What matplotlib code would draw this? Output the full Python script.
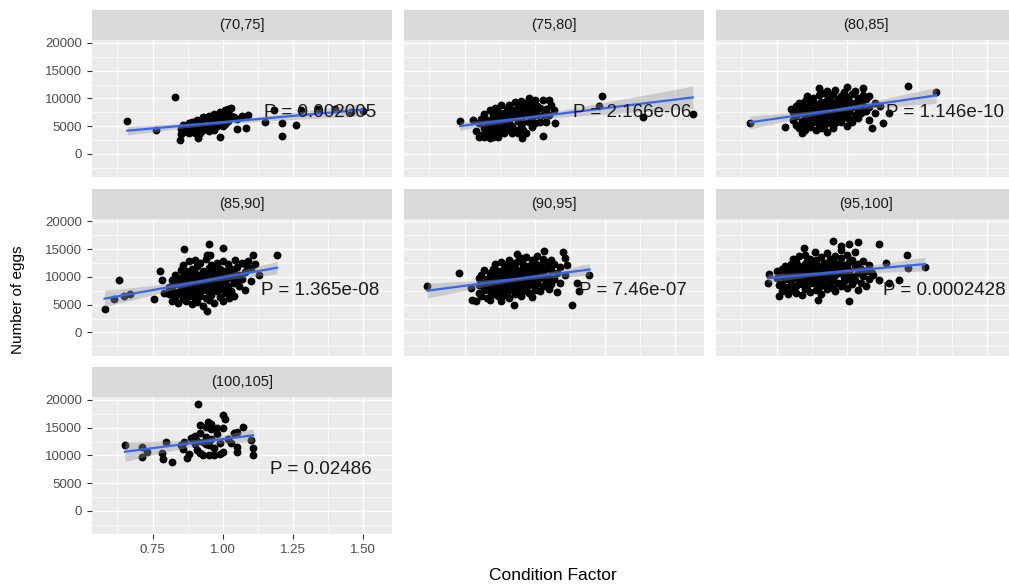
import numpy as np
import matplotlib
matplotlib.use('Agg')
import matplotlib.pyplot as plt

plt.rcParams['font.family'] = ['Liberation Sans', 'DejaVu Sans']

# facet labels (length class) and the p-values printed in each panel
panel_labels = ['(70,75]', '(75,80]', '(80,85]', '(85,90]',
                '(90,95]', '(95,100]', '(100,105]']
p_labels = ['P = 0.002005', 'P = 2.166e-06', 'P = 1.146e-10',
            'P = 1.365e-08', 'P = 7.46e-07', 'P = 0.0002428', 'P = 0.02486']

# (condition factor, number of eggs), one list per panel
pts_70_75 = [
    (0.66, 5900), (0.83, 10200), (0.763, 4300), (0.848, 2500), (0.912, 2900),
    (0.99, 3100), (1.02, 8100), (1.051, 4500), (1.083, 4700), (1.091, 7000),
    (1.152, 5800), (1.212, 5600), (1.212, 3300), (1.263, 5200), (1.182, 7900),
    (1.342, 8100), (1.46, 7600), (1.28, 8000), (1.40, 8100), (1.50, 7800),
    (0.85, 3600), (0.85, 4500), (0.86, 3900), (0.86, 5200), (0.87, 4200),
    (0.87, 5000), (0.88, 3700), (0.88, 5500), (0.88, 4600), (0.89, 4200),
    (0.89, 5800), (0.90, 4800), (0.90, 3800), (0.90, 5400), (0.91, 4300),
    (0.91, 6200), (0.91, 5100), (0.92, 4700), (0.92, 5800), (0.92, 3800),
    (0.93, 5200), (0.93, 6700), (0.93, 4300), (0.94, 5700), (0.94, 6400),
    (0.94, 4600), (0.95, 4100), (0.95, 5200), (0.95, 6900), (0.96, 5700),
    (0.96, 4500), (0.96, 6400), (0.97, 7200), (0.97, 5200), (0.97, 4300),
    (0.98, 6100), (0.98, 6900), (0.98, 5000), (0.99, 5600), (0.99, 7600),
    (0.99, 6500), (1.00, 5000), (1.00, 7200), (1.00, 6100), (1.01, 7900),
    (1.01, 6700), (1.01, 5400), (1.02, 7500), (1.02, 6000), (1.03, 6900),
    (1.03, 8200), (1.04, 6700), (1.05, 6300), (1.07, 6900),
]

pts_75_80 = [
    (0.734, 5900), (0.78, 6100), (0.80, 3100), (0.84, 2900), (0.954, 2900),
    (1.03, 3300), (1.05, 9700), (1.073, 5600), (1.23, 8700), (1.24, 10500),
    (1.389, 6700), (1.565, 7200),
    (0.79, 4100), (0.80, 5600), (0.81, 3500), (0.81, 6300), (0.82, 4700),
    (0.82, 3000), (0.82, 7200), (0.83, 5500), (0.83, 4000), (0.83, 6200),
    (0.84, 4600), (0.84, 7900), (0.84, 3400), (0.85, 6200), (0.85, 3000),
    (0.85, 7000), (0.85, 5100), (0.86, 4100), (0.86, 8300), (0.86, 5600),
    (0.87, 4900), (0.87, 6700), (0.87, 3000), (0.87, 7600), (0.88, 6100),
    (0.88, 3900), (0.88, 8800), (0.89, 4800), (0.89, 7400), (0.89, 5700),
    (0.89, 3700), (0.90, 8200), (0.90, 5300), (0.90, 6700), (0.91, 4400),
    (0.91, 7200), (0.91, 8800), (0.91, 6000), (0.92, 5100), (0.92, 8000),
    (0.92, 3700), (0.93, 6700), (0.93, 4400), (0.93, 9400), (0.93, 7600),
    (0.94, 5900), (0.94, 8700), (0.94, 3800), (0.95, 7300), (0.95, 5100),
    (0.95, 9500), (0.95, 6500), (0.96, 5700), (0.96, 8200), (0.96, 4300),
    (0.97, 7200), (0.97, 9100), (0.97, 3700), (0.98, 5700), (0.98, 7900),
    (0.98, 10000), (0.99, 6600), (0.99, 4900), (0.99, 8900), (1.00, 7600),
    (1.00, 5600), (1.00, 9700), (1.01, 7000), (1.01, 8600), (1.02, 5800),
    (1.02, 8300), (1.03, 9700), (1.03, 7100), (1.04, 8100), (1.04, 5700),
    (1.05, 7000), (1.06, 8800), (1.07, 7900),
]

pts_80_85 = [
    (0.655, 5600), (0.80, 8100), (0.78, 4900), (0.90, 11800), (0.84, 3700),
    (0.93, 4000), (1.00, 12100), (1.06, 11900), (1.22, 12300), (1.32, 11200),
    (1.09, 4600), (1.131, 5600), (1.15, 7400), (1.12, 8700), (1.08, 10400),
    (0.81, 6200), (0.81, 7600), (0.82, 5200), (0.82, 8600), (0.82, 6900),
    (0.83, 4600), (0.83, 7300), (0.83, 9100), (0.84, 6000), (0.84, 8200),
    (0.84, 5100), (0.85, 7000), (0.85, 9600), (0.85, 4300), (0.85, 6400),
    (0.86, 5600), (0.86, 8600), (0.86, 7700), (0.86, 10400), (0.87, 6600),
    (0.87, 4800), (0.87, 9100), (0.87, 7300), (0.88, 8000), (0.88, 5700),
    (0.88, 10100), (0.88, 6900), (0.89, 7500), (0.89, 4400), (0.89, 9000),
    (0.89, 6100), (0.90, 8500), (0.90, 6500), (0.90, 10600), (0.90, 5300),
    (0.91, 7100), (0.91, 9400), (0.91, 4600), (0.91, 8100), (0.92, 6000),
    (0.92, 10900), (0.92, 7700), (0.92, 5100), (0.92, 8800), (0.93, 9700),
    (0.93, 6800), (0.93, 7900), (0.93, 11300), (0.94, 5600), (0.94, 8400),
    (0.94, 10100), (0.94, 7200), (0.95, 9100), (0.95, 6300), (0.95, 4700),
    (0.95, 7800), (0.95, 10800), (0.96, 8600), (0.96, 6900), (0.96, 11500),
    (0.96, 5500), (0.97, 7400), (0.97, 9900), (0.97, 8200), (0.97, 6100),
    (0.98, 10500), (0.98, 5800), (0.98, 8900), (0.98, 7300), (0.99, 9300),
    (0.99, 6600), (0.99, 11100), (0.99, 8000), (1.00, 7000), (1.00, 10200),
    (1.00, 5000), (1.00, 8700), (1.01, 9600), (1.01, 7700), (1.01, 6300),
    (1.02, 10800), (1.02, 8400), (1.02, 5700), (1.03, 9100), (1.03, 7100),
    (1.03, 11400), (1.04, 8000), (1.04, 10100), (1.04, 6500), (1.05, 9400),
    (1.05, 7400), (1.06, 8700), (1.06, 10600), (1.07, 7800), (1.07, 9900),
    (1.08, 8400), (1.08, 6200), (1.10, 9200), (1.10, 7400),
]

pts_85_90 = [
    (0.579, 4300), (0.629, 9400), (0.611, 6100), (0.647, 6500), (0.671, 6900),
    (0.778, 11000), (0.754, 6100), (0.862, 15100), (0.951, 15900), (1.00, 15300),
    (0.957, 14000), (1.195, 14000), (1.11, 13900), (1.117, 12300), (0.945, 3800),
    (1.022, 6300), (0.79, 7200), (0.784, 9500), (1.09, 12800), (1.046, 13100),
    (1.082, 12200), (0.945, 14000),
    (0.81, 8200), (0.81, 6900), (0.82, 9400), (0.82, 7600), (0.82, 5600),
    (0.83, 8700), (0.83, 10300), (0.83, 6400), (0.84, 7300), (0.84, 9800),
    (0.84, 5300), (0.85, 8900), (0.85, 11200), (0.85, 6900), (0.85, 7800),
    (0.86, 10100), (0.86, 6100), (0.86, 8400), (0.86, 12100), (0.87, 9300),
    (0.87, 7200), (0.87, 11000), (0.87, 5700), (0.88, 8100), (0.88, 10500),
    (0.88, 6600), (0.88, 12800), (0.88, 9300), (0.89, 7500), (0.89, 9900),
    (0.89, 11500), (0.89, 5100), (0.90, 8700), (0.90, 10800), (0.90, 6300),
    (0.90, 7800), (0.90, 13100), (0.91, 9500), (0.91, 11900), (0.91, 7000),
    (0.91, 5500), (0.92, 8200), (0.92, 10300), (0.92, 12500), (0.92, 6600),
    (0.92, 9000), (0.93, 11100), (0.93, 7600), (0.93, 9700), (0.93, 4800),
    (0.94, 8500), (0.94, 10600), (0.94, 13200), (0.94, 6200), (0.94, 9300),
    (0.95, 7300), (0.95, 11600), (0.95, 9900), (0.95, 5800), (0.96, 8800),
    (0.96, 12200), (0.96, 10400), (0.96, 6800), (0.96, 7800), (0.97, 9500),
    (0.97, 11200), (0.97, 5300), (0.97, 8200), (0.98, 10700), (0.98, 7500),
    (0.98, 12600), (0.98, 9100), (0.99, 8600), (0.99, 11500), (0.99, 6400),
    (0.99, 9900), (1.00, 10200), (1.00, 7900), (1.00, 12900), (1.00, 5700),
    (1.01, 9300), (1.01, 11000), (1.01, 7100), (1.02, 10500), (1.02, 8400),
    (1.02, 12300), (1.03, 9800), (1.03, 7500), (1.03, 11400), (1.04, 8900),
    (1.04, 10700), (1.04, 6600), (1.05, 11800), (1.05, 9400), (1.06, 8300),
    (1.06, 10300), (1.07, 12500), (1.07, 9600), (1.08, 10900), (1.08, 7700),
    (1.10, 11600), (1.10, 9200), (1.13, 10400),
]

pts_90_95 = [
    (0.617, 8300), (0.731, 10700), (0.772, 8000), (0.778, 5900), (0.939, 14200),
    (1.034, 14600), (1.10, 14500), (1.117, 12200), (1.135, 5000), (1.153, 8900),
    (1.16, 7400), (1.196, 10400), (0.927, 5000), (0.79, 5600),
    (0.80, 8600), (0.80, 7200), (0.80, 9900), (0.81, 10400), (0.81, 6500),
    (0.82, 8900), (0.82, 7700), (0.82, 11200), (0.83, 9600), (0.83, 6200),
    (0.83, 8300), (0.84, 10800), (0.84, 7400), (0.84, 9200), (0.84, 5800),
    (0.85, 8100), (0.85, 11500), (0.85, 9700), (0.85, 6900), (0.86, 10200),
    (0.86, 8600), (0.86, 12300), (0.86, 7300), (0.87, 9300), (0.87, 11000),
    (0.87, 6500), (0.87, 8000), (0.88, 10600), (0.88, 7700), (0.88, 12700),
    (0.88, 9000), (0.88, 5600), (0.89, 8400), (0.89, 11700), (0.89, 9900),
    (0.89, 6800), (0.90, 10900), (0.90, 7300), (0.90, 12300), (0.90, 9200),
    (0.90, 8100), (0.91, 9700), (0.91, 13100), (0.91, 6300), (0.91, 11300),
    (0.92, 8700), (0.92, 10500), (0.92, 7600), (0.92, 12500), (0.92, 9400),
    (0.93, 11800), (0.93, 8200), (0.93, 6900), (0.93, 10100), (0.94, 9600),
    (0.94, 12800), (0.94, 7900), (0.94, 11000), (0.94, 8800), (0.95, 10400),
    (0.95, 6600), (0.95, 13400), (0.95, 9100), (0.96, 11600), (0.96, 8500),
    (0.96, 12300), (0.96, 7400), (0.96, 9900), (0.97, 10800), (0.97, 13600),
    (0.97, 8000), (0.97, 9400), (0.98, 12000), (0.98, 7100), (0.98, 10200),
    (0.98, 11300), (0.98, 8600), (0.99, 9700), (0.99, 13000), (0.99, 6400),
    (0.99, 10900), (1.00, 11700), (1.00, 8300), (1.00, 12600), (1.00, 9300),
    (1.00, 7600), (1.01, 10600), (1.01, 13800), (1.01, 8900), (1.02, 12200),
    (1.02, 9800), (1.02, 7400), (1.02, 11100), (1.03, 10300), (1.03, 13300),
    (1.03, 8400), (1.04, 11500), (1.04, 9100), (1.04, 12700), (1.05, 10000),
    (1.05, 7800), (1.05, 12000), (1.06, 11200), (1.06, 8700), (1.06, 13100),
    (1.07, 9600), (1.07, 12400), (1.08, 10700), (1.08, 7300), (1.09, 11800),
    (1.09, 9000), (1.11, 13400), (1.11, 10300),
]

pts_95_100 = [
    (0.724, 10600), (0.719, 8900), (0.76, 6500), (0.79, 7900), (0.897, 5900),
    (0.95, 16400), (1.01, 16000), (1.04, 16300), (0.981, 15500), (0.888, 14500),
    (0.849, 15300), (1.117, 15900), (1.01, 5600), (1.215, 14000), (1.219, 11700),
    (1.279, 11800), (1.117, 9500), (1.153, 8900), (1.189, 9400), (1.093, 10400),
    (1.141, 12600),
    (0.75, 9800), (0.75, 11000), (0.76, 10300), (0.76, 8600), (0.77, 11400),
    (0.77, 9300), (0.77, 7400), (0.78, 10100), (0.78, 12000), (0.78, 8200),
    (0.79, 9600), (0.79, 11000), (0.79, 6900), (0.80, 10600), (0.80, 12400),
    (0.80, 8800), (0.80, 7700), (0.81, 9900), (0.81, 11600), (0.81, 13200),
    (0.82, 8400), (0.82, 10900), (0.82, 12700), (0.82, 7200), (0.83, 10200),
    (0.83, 9100), (0.83, 11900), (0.83, 13700), (0.84, 8700), (0.84, 11300),
    (0.84, 10000), (0.84, 6700), (0.85, 12300), (0.85, 9500), (0.85, 10800),
    (0.85, 7900), (0.85, 13900), (0.86, 11100), (0.86, 8300), (0.86, 12800),
    (0.86, 10100), (0.87, 9700), (0.87, 11700), (0.87, 7300), (0.87, 13300),
    (0.88, 10500), (0.88, 12300), (0.88, 8900), (0.88, 9800), (0.89, 11500),
    (0.89, 7700), (0.89, 13000), (0.89, 10200), (0.90, 9200), (0.90, 12000),
    (0.90, 10800), (0.90, 8200), (0.91, 11200), (0.91, 13600), (0.91, 9600),
    (0.91, 7000), (0.92, 10400), (0.92, 12600), (0.92, 8600), (0.92, 11700),
    (0.93, 9900), (0.93, 14300), (0.93, 11000), (0.93, 7800), (0.94, 12200),
    (0.94, 8900), (0.94, 10500), (0.94, 13200), (0.95, 11400), (0.95, 9400),
    (0.95, 12800), (0.95, 8100), (0.96, 10300), (0.96, 13700), (0.96, 11700),
    (0.96, 7400), (0.97, 12400), (0.97, 9000), (0.97, 10700), (0.98, 11100),
    (0.98, 13500), (0.98, 8400), (0.98, 14800), (0.99, 10000), (0.99, 12100),
    (0.99, 9300), (1.00, 11600), (1.00, 13900), (1.00, 8000), (1.00, 10600),
    (1.01, 12700), (1.01, 9700), (1.01, 11100), (1.02, 10200), (1.02, 13100),
    (1.02, 8700), (1.03, 11900), (1.03, 9500), (1.03, 14500), (1.04, 10800),
    (1.04, 12400), (1.04, 7600), (1.05, 11400), (1.05, 9000), (1.06, 12900),
    (1.06, 10100), (1.07, 11000), (1.07, 8300), (1.08, 12100), (1.08, 9600),
    (1.09, 10700),
]

pts_100_105 = [
    (0.652, 11800), (0.711, 11500), (0.711, 9700), (0.729, 10700), (0.783, 10400),
    (0.789, 9300), (0.798, 12500), (0.821, 8800), (0.872, 9500), (0.863, 12500),
    (0.914, 19300), (0.92, 15500), (0.949, 16100), (1.00, 17300), (1.008, 16600),
    (1.00, 14900), (1.00, 10700), (1.051, 14300), (1.074, 15200), (1.051, 10700),
    (1.051, 11500), (1.10, 12800), (1.109, 11300), (1.109, 10000), (0.86, 11100),
    (0.853, 11800), (0.889, 13100),
    (0.88, 10200), (0.90, 12000), (0.90, 13600), (0.91, 11000), (0.92, 14000),
    (0.93, 12500), (0.93, 10000), (0.94, 13300), (0.94, 15100), (0.95, 11800),
    (0.95, 10100), (0.96, 12900), (0.96, 14700), (0.97, 11300), (0.97, 10000),
    (0.98, 13800), (0.99, 12200), (0.99, 10200), (0.92, 10400), (0.96, 15600),
    (1.02, 13000), (1.03, 12300), (0.98, 15000), (0.94, 12100), (0.91, 12600),
    (1.04, 14000),
]

panel_points = [pts_70_75, pts_75_80, pts_80_85, pts_85_90,
                pts_90_95, pts_95_100, pts_100_105]

FIG_W, FIG_H = 1009, 586
PANEL_BG = '#EBEBEB'
STRIP_BG = '#D9D9D9'


def add_panel(fig, col, row):
    """panel + strip axes, positions in pixels of the 1009x586 picture"""
    left = 92 + col * 312
    top = 40 + row * 178.5
    ax = fig.add_axes([left / FIG_W, 1 - (top + 137) / FIG_H,
                       300 / FIG_W, 137 / FIG_H])
    strip = fig.add_axes([left / FIG_W, 1 - top / FIG_H,
                          300 / FIG_W, 30 / FIG_H])
    return ax, strip


def lm_band(x, y, xs):
    """straight line fit with a 95% band, like geom_smooth(method='lm')"""
    slope, icept = np.polyfit(x, y, 1)
    n = len(x)
    resid = y - (slope * x + icept)
    s = np.sqrt(np.sum(resid ** 2) / (n - 2))
    sxx = np.sum((x - x.mean()) ** 2)
    se = s * np.sqrt(1.0 / n + (xs - x.mean()) ** 2 / sxx)
    fit = slope * xs + icept
    return fit, fit - 1.98 * se, fit + 1.98 * se


fig = plt.figure(figsize=(FIG_W / 100, FIG_H / 100), dpi=100)

for i, (pts, lab, ptxt) in enumerate(zip(panel_points, panel_labels, p_labels)):
    row, col = divmod(i, 3)
    ax, strip = add_panel(fig, col, row)
    data = np.array(pts, dtype=float)
    x, y = data[:, 0], data[:, 1]

    ax.set_facecolor(PANEL_BG)
    ax.set_xlim(0.534, 1.605)
    ax.set_ylim(-4150, 20540)
    ax.set_xticks([0.75, 1.0, 1.25, 1.5])
    ax.set_xticks([0.625, 0.875, 1.125, 1.375], minor=True)
    ax.set_yticks([0, 5000, 10000, 15000, 20000])
    ax.set_yticks([-2500, 2500, 7500, 12500, 17500], minor=True)
    ax.set_xticklabels(['0.75', '1.00', '1.25', '1.50'])
    ax.grid(which='major', color='white', lw=1.0)
    ax.grid(which='minor', color='white', lw=0.5)
    ax.set_axisbelow(True)
    for sp in ax.spines.values():
        sp.set_visible(False)
    ax.tick_params(which='minor', length=0)
    ax.tick_params(which='major', colors='#333333', labelcolor='#4D4D4D',
                   labelsize=9.5, length=3.5, width=0.8)
    if col != 0:
        ax.tick_params(axis='y', length=0, labelleft=False)
    if i != 6:
        ax.tick_params(axis='x', length=0, labelbottom=False)

    xs = np.linspace(x.min(), x.max(), 100)
    fit, lo, hi = lm_band(x, y, xs)
    ax.scatter(x, y, s=32, color='black', linewidths=0, zorder=3)
    ax.fill_between(xs, lo, hi, color='#999999', alpha=0.4, lw=0, zorder=4)
    ax.plot(xs, fit, color='#3366FF', lw=1.6, zorder=5)
    ax.text(1.35, 7500, ptxt, ha='center', va='center', fontsize=13.5,
            color='#1A1A1A', zorder=6)

    strip.set_facecolor(STRIP_BG)
    strip.set_xticks([])
    strip.set_yticks([])
    for sp in strip.spines.values():
        sp.set_visible(False)
    strip.text(0.5, 0.5, lab, ha='center', va='center', fontsize=10.5,
               color='#1A1A1A', transform=strip.transAxes)

fig.text(18 / FIG_W, 1 - 300 / FIG_H, 'Number of eggs', rotation=90,
         ha='center', va='center', fontsize=11)
fig.text(553 / FIG_W, 1 - 575 / FIG_H, 'Condition Factor',
         ha='center', va='center', fontsize=12.5)

fig.savefig('out.png', dpi=100)
